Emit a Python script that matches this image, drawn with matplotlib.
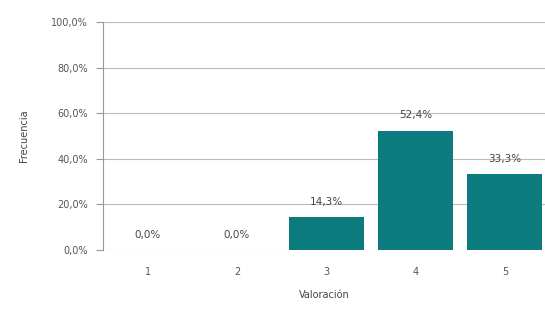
from matplotlib import pyplot as plt
import numpy as np

# chart data
categories = ["1", "2", "3", "4", "5"]
values = [0.0, 0.0, 14.3, 52.4, 33.3]
y_ticks = [0, 20, 40, 60, 80, 100]


def pct(v):
    return ("%.1f%%" % v).replace(".", ",")


fig = plt.figure(figsize=(5.45, 3.12), dpi=100)
ax = fig.add_axes([0.189, 0.199, 0.811, 0.73])

x = np.arange(1, len(categories) + 1)
bars = ax.bar(x, values, width=0.84, color="#0b7b7d", zorder=3)

for xi, v in zip(x, values):
    ax.text(xi, v + 4.5, pct(v), ha="center", va="bottom", fontsize=7.5, color="#444444")

ax.set_xlim(0.5, 5.45)
ax.set_ylim(0, 100)
ax.set_yticks(y_ticks)
ax.set_yticklabels([pct(t) for t in y_ticks])
ax.set_xticks(x)
ax.set_xticklabels(categories)
ax.grid(True, axis="y", color="#bbbbbb", linewidth=0.8, zorder=0)

for side in ["top", "right", "bottom"]:
    ax.spines[side].set_visible(False)
ax.spines["left"].set_color("#999999")
ax.tick_params(axis="y", length=5, color="#999999", labelsize=7, labelcolor="#555555", pad=6)
ax.tick_params(axis="x", length=0, labelsize=7, labelcolor="#555555", pad=12)

ax.set_xlabel("Valoración", fontsize=7, color="#444444", labelpad=10)
ax.set_ylabel("Frecuencia", fontsize=7, color="#444444", labelpad=16)

fig.savefig("out.png", dpi=100)
